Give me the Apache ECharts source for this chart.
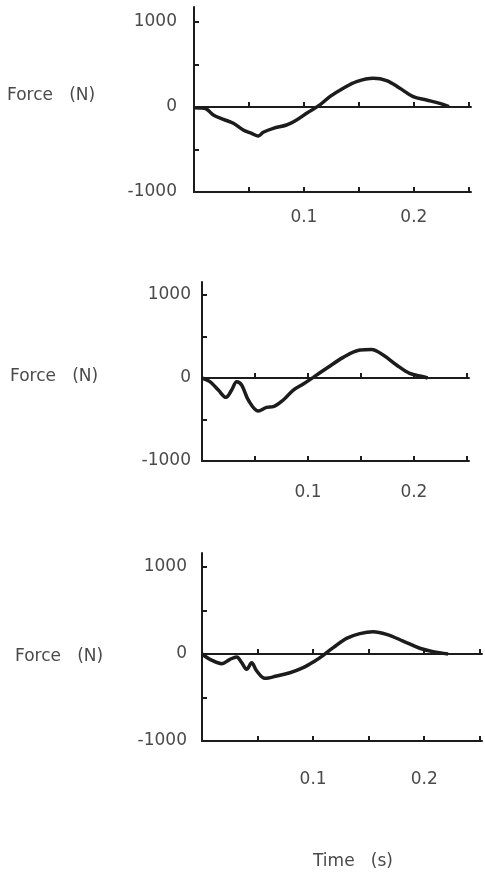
<!DOCTYPE html>
<html>
<head>
<meta charset="utf-8">
<title>Force (N) vs Time (s)</title>
<script src="https://cdn.jsdelivr.net/npm/echarts@6/dist/echarts.min.js"></script>
<style>
    html, body { margin: 0; padding: 0; background: #fff; }
    #chart { width: 485px; height: 874px; }
</style>
</head>
<body>
<div id="chart"></div>
<script>
// values
const time1 = [0, 0.006, 0.0115, 0.0176, 0.0267, 0.0358, 0.0448, 0.0524, 0.0585, 0.063, 0.0721, 0.0842, 0.0933, 0.1024, 0.1145, 0.1236, 0.1358, 0.1479, 0.163, 0.1752, 0.1873, 0.1994, 0.2115, 0.2236, 0.232];
const force1 = [-10, -12, -25, -94, -145, -192, -270, -310, -341, -298, -251, -212, -153, -74, 24, 121, 220, 298, 338, 310, 220, 121, 82, 43, 5];

const time2 = [0, 0.0075, 0.0154, 0.0226, 0.028, 0.0327, 0.0374, 0.0437, 0.0531, 0.061, 0.0673, 0.0767, 0.0862, 0.0956, 0.105, 0.1176, 0.1333, 0.149, 0.16, 0.171, 0.1836, 0.196, 0.2088, 0.213];
const force2 = [0, -44, -145, -233, -145, -44, -84, -265, -398, -353, -345, -265, -145, -72, 8, 117, 249, 337, 345, 277, 157, 56, 16, 0];

const time3 = [0, 0.0072, 0.0177, 0.0252, 0.0312, 0.0357, 0.0402, 0.0447, 0.0492, 0.0567, 0.0672, 0.0791, 0.0911, 0.1016, 0.1091, 0.1181, 0.1301, 0.1421, 0.154, 0.1661, 0.181, 0.196, 0.208, 0.2215];
const force3 = [0, -61, -111, -61, -34, -100, -176, -100, -195, -280, -253, -215, -157, -80, -15, 73, 180, 234, 256, 226, 149, 66, 27, 0];

const xTicks = [0.05, 0.1, 0.15, 0.2, 0.25];
const xTickLabels = [0.1, 0.2];
const yTicks = [-1000, -500, 0, 500, 1000];
const yTickLabels = [-1000, 0, 1000];

const ink = "#1c1c1c";
const textColor = "#4a4a4a";
const font = "DejaVu Sans";

// grid boxes
const panels = [
    { t: time1, f: force1, left: 194, top: 7, width: 277, height: 185, yMax: 1176, yMargin: 17, xMargin: 17, labelX: 7, labelY: 97 },
    { t: time2, f: force2, left: 202, top: 282, width: 267, height: 179, yMax: 1157, yMargin: 11, xMargin: 23, labelX: 10, labelY: 378 },
    { t: time3, f: force3, left: 202, top: 553, width: 280, height: 188, yMax: 1161, yMargin: 15, xMargin: 30, labelX: 15, labelY: 658 }
];

const grid = [], xAxis = [], yAxis = [], series = [], graphic = [];

panels.forEach(function (p, i) {
    grid.push({ left: p.left, top: p.top, width: p.width, height: p.height });

    // bottom axis with labels
    xAxis.push({
        type: "value", gridIndex: i, position: "bottom", min: 0, max: 0.252,
        splitLine: { show: false },
        axisLine: { onZero: false, lineStyle: { color: ink, width: 2 } },
        axisTick: { inside: true, length: 5, customValues: xTicks, lineStyle: { color: ink, width: 2 } },
        axisLabel: {
            customValues: xTickLabels, margin: p.xMargin,
            color: textColor, fontFamily: font, fontSize: 17,
            formatter: function (v) { return String(v); }
        }
    });
    // zero line
    xAxis.push({
        type: "value", gridIndex: i, position: "bottom", min: 0, max: 0.252,
        splitLine: { show: false },
        axisLine: { onZero: true, lineStyle: { color: ink, width: 2 } },
        axisTick: { inside: true, length: 5, customValues: xTicks, lineStyle: { color: ink, width: 2 } },
        axisLabel: { show: false }
    });

    yAxis.push({
        type: "value", gridIndex: i, min: -1000, max: p.yMax,
        splitLine: { show: false },
        axisLine: { lineStyle: { color: ink, width: 2 } },
        axisTick: { inside: true, length: 5, customValues: yTicks, lineStyle: { color: ink, width: 2 } },
        axisLabel: {
            customValues: yTickLabels, margin: p.yMargin,
            color: textColor, fontFamily: font, fontSize: 17,
            formatter: function (v) { return String(v); }
        }
    });

    series.push({
        type: "line", xAxisIndex: i * 2, yAxisIndex: i,
        data: p.t.map(function (t, k) { return [t, p.f[k]]; }),
        smooth: 0.35, showSymbol: false,
        lineStyle: { color: ink, width: 3.5 }
    });

    graphic.push({
        type: "text", left: p.labelX, top: p.labelY - 10,
        style: { text: "Force   (N)", fill: textColor, font: "17px '" + font + "'" }
    });
});

graphic.push({
    type: "text", left: 313, top: 853,
    style: { text: "Time   (s)", fill: textColor, font: "17px '" + font + "'" }
});

const myChart = echarts.init(document.getElementById("chart"), null, { renderer: "canvas" });
myChart.setOption({
    animation: false,
    backgroundColor: "#fff",
    grid: grid,
    xAxis: xAxis,
    yAxis: yAxis,
    series: series,
    graphic: graphic
});
</script>
</body>
</html>
